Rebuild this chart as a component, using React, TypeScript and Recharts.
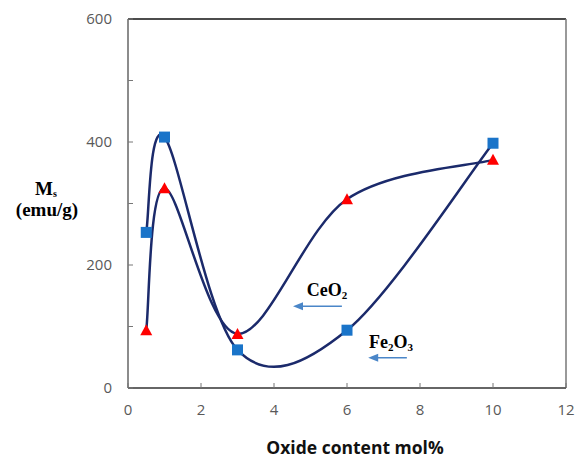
import React from 'react';
import {
  LineChart,
  Line,
  XAxis,
  YAxis,
  ReferenceLine,
  ReferenceDot,
  Label,
} from 'recharts';

const xValues = [0.5, 1, 3, 6, 10];
const fe2o3Ms = [253, 408, 62, 94, 398];
const ceo2Ms = [94, 325, 88, 307, 371];
const xTicks = [0, 2, 4, 6, 8, 10, 12];
const yTicks = [0, 100, 200, 300, 400, 500, 600];
const yTickLabels = [0, 200, 400, 600];

const data = xValues.map((x, i) => ({ x, fe: fe2o3Ms[i], ce: ceo2Ms[i] }));

const LINE_COLOR = '#1b2a6b';
const SQUARE_COLOR = '#1a74c9';
const TRI_COLOR = '#ff0000';
const ARROW_COLOR = '#4a86c8';
const TICK_COLOR = '#595959';

// Excel-like smoothed curve (Catmull-Rom as cubic Bezier, tension 1/6)
const excelCurve = (context: any) => {
  let xs: number[] = [];
  let ys: number[] = [];
  return {
    areaStart() {},
    areaEnd() {},
    lineStart() {
      xs = [];
      ys = [];
    },
    lineEnd() {
      const n = xs.length;
      if (!n) return;
      context.moveTo(xs[0], ys[0]);
      for (let i = 0; i < n - 1; i++) {
        const p = Math.max(i - 1, 0);
        const q = Math.min(i + 2, n - 1);
        const c1x = xs[i] + (xs[i + 1] - xs[p]) / 6;
        const c1y = ys[i] + (ys[i + 1] - ys[p]) / 6;
        const c2x = xs[i + 1] - (xs[q] - xs[i]) / 6;
        const c2y = ys[i + 1] - (ys[q] - ys[i]) / 6;
        context.bezierCurveTo(c1x, c1y, c2x, c2y, xs[i + 1], ys[i + 1]);
      }
    },
    point(x: number, y: number) {
      xs.push(+x);
      ys.push(+y);
    },
  };
};

const SquareDot = (props: any) => {
  const { cx, cy, index } = props;
  if (cx == null || cy == null) return <g key={`s${index}`} />;
  const s = 11;
  return <rect key={`s${index}`} x={cx - s / 2} y={cy - s / 2} width={s} height={s} fill={SQUARE_COLOR} />;
};

const TriangleDot = (props: any) => {
  const { cx, cy, index } = props;
  if (cx == null || cy == null) return <g key={`t${index}`} />;
  const w = 12;
  const h = 10;
  return (
    <polygon
      key={`t${index}`}
      points={`${cx},${cy - h / 2 - 1} ${cx - w / 2},${cy + h / 2} ${cx + w / 2},${cy + h / 2}`}
      fill={TRI_COLOR}
    />
  );
};

const XTick = (props: any) => {
  const { x, y, payload } = props;
  return (
    <g>
      <line x1={x} y1={y - 16} x2={x} y2={y - 21} stroke="#777" strokeWidth={1} />
      <text x={x} y={y} dy="0.71em" textAnchor="middle" fill={TICK_COLOR} fontSize={15} fontFamily="Open Sans">
        {payload.value}
      </text>
    </g>
  );
};

const YTick = (props: any) => {
  const { x, y, payload } = props;
  const show = yTickLabels.includes(payload.value);
  return (
    <g>
      <line x1={x + 16} y1={y} x2={x + 21} y2={y} stroke="#777" strokeWidth={1} />
      {show && (
        <text x={x} y={y} dy="0.36em" textAnchor="end" fill={TICK_COLOR} fontSize={15} fontFamily="Open Sans">
          {payload.value}
        </text>
      )}
    </g>
  );
};

const YTitle = (props: any) => {
  const { viewBox } = props;
  const cx = viewBox.x + 47;
  const mid = viewBox.y + viewBox.height / 2;
  return (
    <g fontFamily="Liberation Serif" fontWeight="bold" fill="#000">
      <text x={cx - 1} y={mid - 9} textAnchor="middle" fontSize={19}>
        <tspan>M</tspan>
        <tspan fontSize={10} dy={2}>s</tspan>
      </text>
      <text x={cx} y={mid + 12} textAnchor="middle" fontSize={19}>
        (emu/g)
      </text>
    </g>
  );
};

const XTitle = (props: any) => {
  const { viewBox } = props;
  return (
    <text
      x={viewBox.x + viewBox.width / 2 + 8}
      y={viewBox.y + 66}
      textAnchor="middle"
      fontFamily="Open Sans"
      fontWeight="bold"
      fontSize={17.5}
      fill="#111"
    >
      Oxide content mol%
    </text>
  );
};

const annotations = [
  { name: 'CeO', sub: '2', after: '', x: 4.9, y: 150 },
  { name: 'Fe', sub: '2', after: 'O', sub2: '3', x: 6.6, y: 65 },
];

const arrows = [
  { from: 5.86, to: 4.52, y: 133 },
  { from: 7.64, to: 6.58, y: 49 },
];

const AnnotationText = (a: any) => (props: any) => {
  const { cx, cy } = props;
  return (
    <text x={cx} y={cy} fontFamily="Liberation Serif" fontWeight="bold" fontSize={18} fill="#000">
      <tspan>{a.name}</tspan>
      <tspan fontSize={11} dy={3}>{a.sub}</tspan>
      {a.after ? <tspan dy={-3}>{a.after}</tspan> : null}
      {a.sub2 ? <tspan fontSize={11} dy={3}>{a.sub2}</tspan> : null}
    </text>
  );
};

const ArrowShape = (props: any) => {
  const { x1, y1, x2, y2 } = props;
  const dir = x2 < x1 ? -1 : 1;
  const hx = x2;
  const hy = y2;
  return (
    <g>
      <line x1={x1} y1={y1} x2={x2 - dir * 6} y2={y2} stroke={ARROW_COLOR} strokeWidth={1.5} />
      <polygon
        points={`${hx},${hy} ${hx - dir * 10},${hy - 4} ${hx - dir * 10},${hy + 4}`}
        fill={ARROW_COLOR}
      />
    </g>
  );
};

export default function App() {
  return (
    <div style={{ position: 'absolute', left: 0, top: 0, background: '#fff' }}>
      <LineChart width={575} height={459} data={data} margin={{ top: 19, right: 9, bottom: 0, left: 0 }}>
        <XAxis
          dataKey="x"
          type="number"
          domain={[0, 12]}
          ticks={xTicks}
          interval={0}
          height={71}
          tickSize={0}
          tickMargin={16}
          tickLine={false}
          tick={<XTick />}
          axisLine={{ stroke: '#333', strokeWidth: 1.5 }}
        >
          <Label content={<XTitle />} />
        </XAxis>
        <YAxis
          type="number"
          domain={[0, 600]}
          ticks={yTicks}
          interval={0}
          width={128}
          tickSize={0}
          tickMargin={16}
          tickLine={false}
          tick={<YTick />}
          axisLine={{ stroke: '#666', strokeWidth: 1.5 }}
        >
          <Label content={<YTitle />} />
        </YAxis>
        <ReferenceLine y={600} stroke="#111" strokeWidth={1.5} />
        <ReferenceLine x={12} stroke="#777" strokeWidth={1.5} />
        <Line
          dataKey="fe"
          type={excelCurve as any}
          stroke={LINE_COLOR}
          strokeWidth={2.5}
          dot={SquareDot}
          activeDot={false}
          isAnimationActive={false}
        />
        <Line
          dataKey="ce"
          type={excelCurve as any}
          stroke={LINE_COLOR}
          strokeWidth={2.5}
          dot={TriangleDot}
          activeDot={false}
          isAnimationActive={false}
        />
        {arrows.map((a, i) => (
          <ReferenceLine
            key={`arrow${i}`}
            segment={[
              { x: a.from, y: a.y },
              { x: a.to, y: a.y },
            ]}
            shape={ArrowShape}
          />
        ))}
        {annotations.map((a, i) => (
          <ReferenceDot key={`ann${i}`} x={a.x} y={a.y} r={0} shape={AnnotationText(a)} />
        ))}
      </LineChart>
    </div>
  );
}
